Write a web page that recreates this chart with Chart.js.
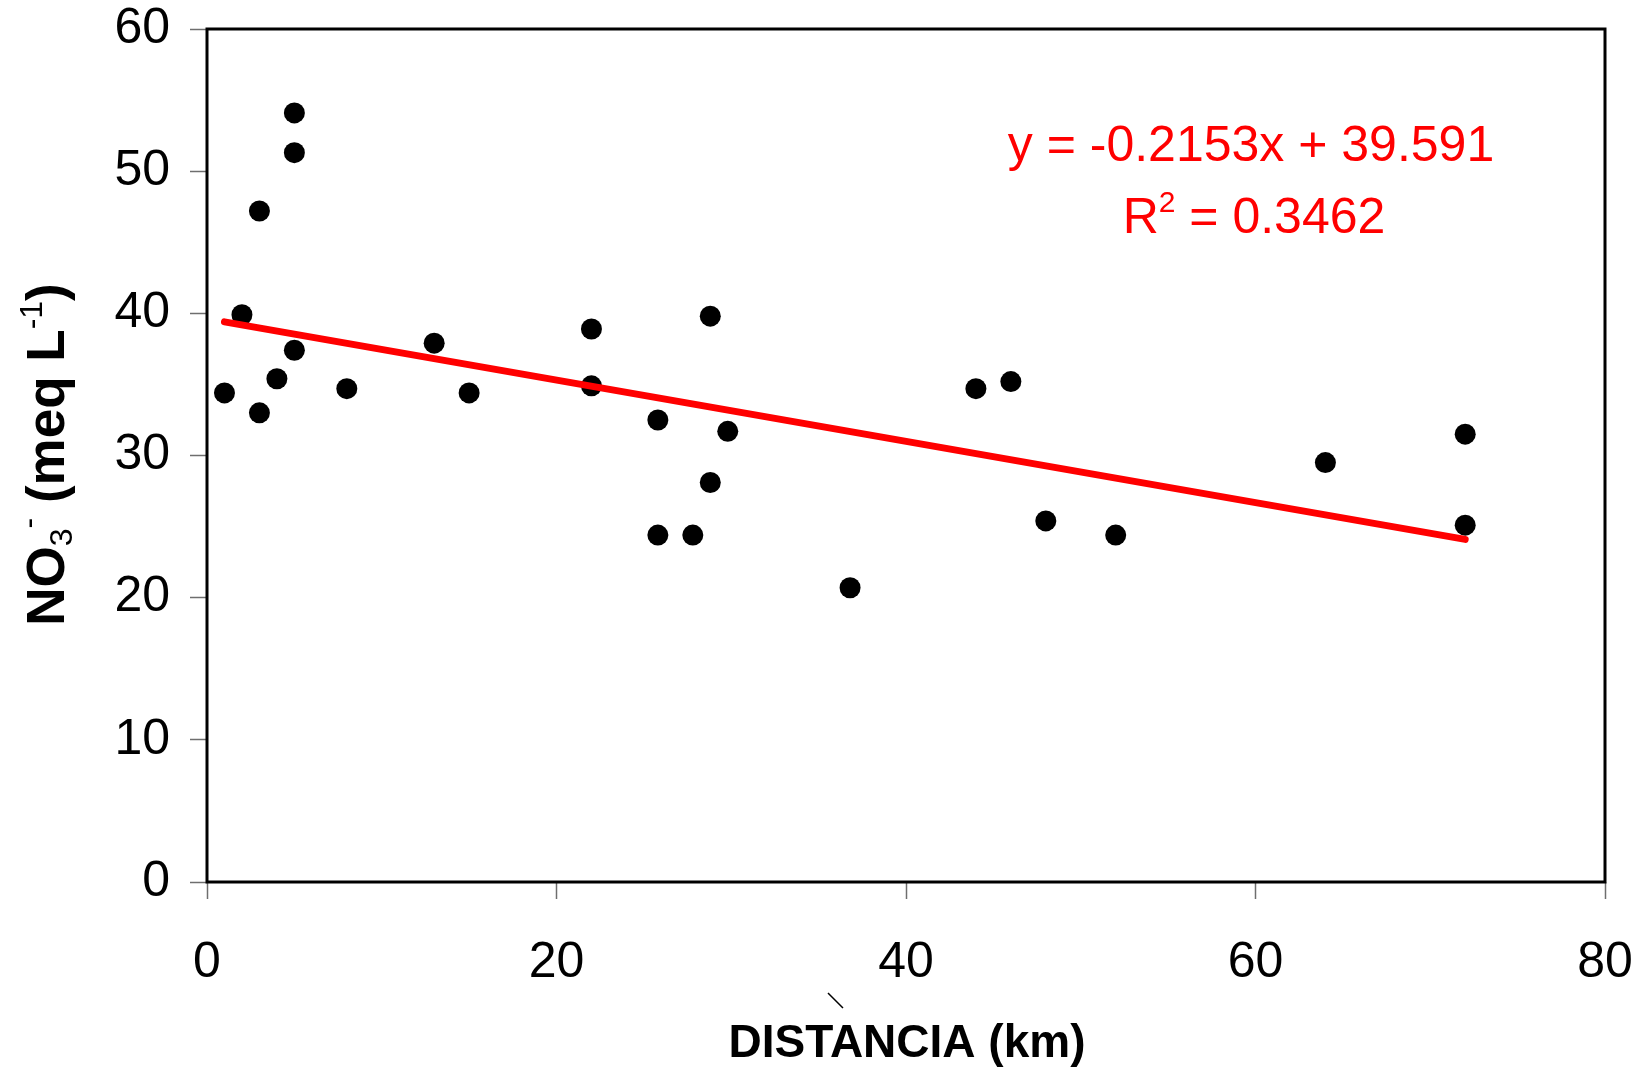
<!DOCTYPE html>
<html>
<head>
<meta charset="utf-8">
<script src="https://cdn.jsdelivr.net/npm/chart.js@4.4.1/dist/chart.umd.min.js"></script>
<style>
  html, body { margin: 0; padding: 0; background: #ffffff; }
  #wrap { width: 1648px; height: 1069px; position: relative; }
</style>
</head>
<body>
<div id="wrap"><canvas id="c" width="1648" height="1069"></canvas></div>
<script>
// ---- data ----
const distanceKm = [1, 2, 3, 3, 4, 5, 5, 5, 8, 13, 15, 22, 22, 25.8, 25.8, 27.8, 28.8, 28.8, 29.8, 36.8, 44, 46, 48, 52, 64, 72, 72];
const no3Values  = [34.4, 39.9, 47.2, 33.0, 35.4, 54.1, 51.3, 37.4, 34.7, 37.9, 34.4, 38.9, 34.9, 32.5, 24.4, 24.4, 39.8, 28.1, 31.7, 20.7, 34.7, 35.2, 25.4, 24.4, 29.5, 31.5, 25.1];
const trendX = [1, 72];
const trendY = [39.4, 24.1];
const xTicks = [0, 20, 40, 60, 80];
const yTicks = [0, 10, 20, 30, 40, 50, 60];
const equationLine1 = 'y = -0.2153x + 39.591';
const equationR2 = '0.3462';
const xTitle = 'DISTANCIA (km)';

const FONT = '"Liberation Sans", Arial, Helvetica, sans-serif';

const scatterPoints = distanceKm.map((x, i) => ({ x: x, y: no3Values[i] }));
const trendPoints = trendX.map((x, i) => ({ x: x, y: trendY[i] }));

function drawRuns(ctx, runs, cx, baseline, align) {
  let total = 0;
  runs.forEach(r => { ctx.font = r.font; r.w = ctx.measureText(r.text).width; total += r.w; });
  let x = align === 'center' ? cx - total / 2 : cx;
  runs.forEach(r => {
    ctx.font = r.font;
    ctx.fillText(r.text, x, baseline + (r.dy || 0));
    x += r.w;
  });
}

const decorPlugin = {
  id: 'decor',
  beforeDatasetsDraw(chart) {
    const ctx = chart.ctx, a = chart.chartArea;
    ctx.save();
    ctx.strokeStyle = '#000000';
    ctx.lineWidth = 3;
    ctx.strokeRect(a.left, a.top, a.right - a.left, a.bottom - a.top);
    ctx.restore();
  },
  afterDraw(chart) {
    const ctx = chart.ctx, a = chart.chartArea;
    ctx.save();
    ctx.textAlign = 'left';
    ctx.textBaseline = 'alphabetic';

    // regression equation
    ctx.fillStyle = '#FF0000';
    drawRuns(ctx, [{ text: equationLine1, font: '50px ' + FONT }], 1251, 161, 'center');
    drawRuns(ctx, [
      { text: 'R', font: '50px ' + FONT },
      { text: '2', font: '30px ' + FONT, dy: -21 },
      { text: ' = ' + equationR2, font: '50px ' + FONT }
    ], 1254, 233, 'center');

    // x axis title
    ctx.fillStyle = '#000000';
    drawRuns(ctx, [{ text: xTitle, font: 'bold 46px ' + FONT }], (a.left + a.right) / 2 + 1, 1057, 'center');

    // y axis title (rotated, with sub/superscripts)
    ctx.save();
    ctx.translate(64, (a.top + a.bottom) / 2 - 1);
    ctx.rotate(-Math.PI / 2);
    drawRuns(ctx, [
      { text: 'NO', font: 'bold 53px ' + FONT },
      { text: '3', font: '32px ' + FONT, dy: 8 },
      { text: '-', font: '32px ' + FONT, dy: -25 },
      { text: ' (meq L', font: 'bold 53px ' + FONT },
      { text: '-1', font: '32px ' + FONT, dy: -22 },
      { text: ')', font: 'bold 53px ' + FONT }
    ], 0, 0, 'center');
    ctx.restore();

    // small stray stroke below the x axis
    ctx.strokeStyle = '#000000';
    ctx.lineWidth = 1.5;
    ctx.beginPath();
    ctx.moveTo(828, 993);
    ctx.lineTo(843, 1008);
    ctx.stroke();
    ctx.restore();
  }
};

new Chart(document.getElementById('c'), {
  type: 'scatter',
  data: {
    datasets: [
      {
        type: 'line',
        label: 'trend',
        data: trendPoints,
        borderColor: '#FF0000',
        borderWidth: 7,
        borderCapStyle: 'round',
        pointRadius: 0,
        fill: false,
        order: 0
      },
      {
        label: 'NO3',
        data: scatterPoints,
        backgroundColor: '#000000',
        borderColor: '#000000',
        pointRadius: 10.5,
        pointBorderWidth: 0,
        order: 1
      }
    ]
  },
  options: {
    responsive: false,
    animation: false,
    devicePixelRatio: 1,
    layout: { padding: { top: 29, right: 43, left: 0, bottom: 0 } },
    plugins: { legend: { display: false }, tooltip: { enabled: false }, title: { display: false } },
    scales: {
      x: {
        type: 'linear',
        min: 0, max: 80,
        afterBuildTicks: s => { s.ticks = xTicks.map(v => ({ value: v })); },
        afterFit: s => { s.height = 187; s.paddingLeft = 0; s.paddingRight = 0; },
        border: { display: false },
        grid: { drawOnChartArea: false, drawTicks: true, tickLength: 17, tickColor: '#6e6e6e', tickWidth: 1.5 },
        ticks: { color: '#000000', font: { family: FONT, size: 50 }, padding: 34, maxRotation: 0 }
      },
      y: {
        type: 'linear',
        min: 0, max: 60,
        afterBuildTicks: s => { s.ticks = yTicks.map(v => ({ value: v })); },
        afterFit: s => { s.width = 207; s.paddingTop = 0; s.paddingBottom = 0; },
        border: { display: false },
        grid: { drawOnChartArea: false, drawTicks: true, tickLength: 17, tickColor: '#6e6e6e', tickWidth: 1.5 },
        ticks: { color: '#000000', font: { family: FONT, size: 50 }, padding: 20 }
      }
    }
  },
  plugins: [decorPlugin]
});
</script>
</body>
</html>
